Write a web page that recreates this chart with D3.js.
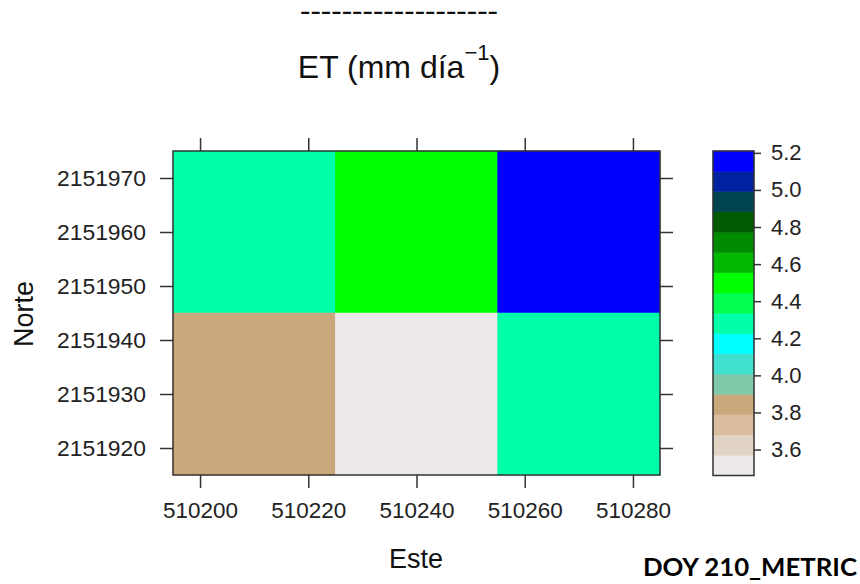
<!DOCTYPE html>
<html lang="es">
<head>
<meta charset="UTF-8">
<title>ET (mm día-1)</title>
<script src="https://d3js.org/d3.v7.min.js"></script>
<style>
  body { margin: 0; background: #fff; }
  svg { display: block; font-family: "Liberation Sans", Arial, sans-serif; }
  .axis path, .axis line { stroke: #333; stroke-width: 1.5px; }
  .axis text { font-size: 22px; fill: #222; font-family: "Liberation Sans", Arial, sans-serif; }
</style>
</head>
<body>
<svg id="chart" width="860" height="584"></svg>
<script>
// cell centres (30 m pixels)
const este = [510210, 510240, 510270];
const norte = [2151960, 2151930];
// ET values, one row per norte
const et = [
  [4.28, 4.50, 5.21],
  [3.84, 3.46, 4.29]
];
const xTicks = [510200, 510220, 510240, 510260, 510280];
const yTicks = [2151920, 2151930, 2151940, 2151950, 2151960, 2151970];
const keyTicks = [3.6, 3.8, 4.0, 4.2, 4.4, 4.6, 4.8, 5.0, 5.2];
// colour key, low -> high
const keyColors = [
  "#EDE9E8", "#E2D4C4", "#D8BC9C", "#CBA87C", "#80C8A8", "#40E0D0",
  "#00FFFF", "#00FFAA", "#00FF50", "#00FF00", "#00B800", "#008A00",
  "#005A00", "#004452", "#0022A0", "#0000FF"
];
const cell = 30;

const svg = d3.select("#chart");

const x = d3.scaleLinear().domain([510195, 510285]).range([173, 660]);
const y = d3.scaleLinear().domain([2151915, 2151975]).range([475, 151]);

const zExt = d3.extent(et.flat());
const color = d3.scaleQuantize().domain(zExt).range(keyColors);

// cells
const cells = [];
norte.forEach((n, i) => este.forEach((e, j) => cells.push({e: e, n: n, v: et[i][j]})));

svg.append("g").selectAll("rect")
  .data(cells)
  .join("rect")
  .attr("x", d => x(d.e - cell / 2))
  .attr("y", d => y(d.n + cell / 2))
  .attr("width", d => x(d.e + cell / 2) - x(d.e - cell / 2))
  .attr("height", d => y(d.n - cell / 2) - y(d.n + cell / 2))
  .attr("fill", d => color(d.v))
  .attr("stroke", d => color(d.v))
  .attr("stroke-width", 0.5);

// panel border
svg.append("rect")
  .attr("x", 173).attr("y", 151)
  .attr("width", 660 - 173).attr("height", 475 - 151)
  .attr("fill", "none").attr("stroke", "#333").attr("stroke-width", 1.5);

// axes
svg.append("g").attr("class", "axis")
  .attr("transform", "translate(0,475)")
  .call(d3.axisBottom(x).tickValues(xTicks).tickSize(13).tickPadding(14).tickFormat(d3.format("d")))
  .call(g => g.select(".domain").remove())
  .call(g => g.selectAll("text").attr("textLength", 75).attr("lengthAdjust", "spacingAndGlyphs"));
svg.append("g").attr("class", "axis")
  .attr("transform", "translate(0,151)")
  .call(d3.axisTop(x).tickValues(xTicks).tickSize(13).tickFormat(""))
  .call(g => g.select(".domain").remove());
svg.append("g").attr("class", "axis")
  .attr("transform", "translate(173,0)")
  .call(d3.axisLeft(y).tickValues(yTicks).tickSize(13).tickPadding(14).tickFormat(d3.format("d")))
  .call(g => g.select(".domain").remove())
  .call(g => g.selectAll("text").attr("textLength", 89).attr("lengthAdjust", "spacingAndGlyphs"));
svg.append("g").attr("class", "axis")
  .attr("transform", "translate(660,0)")
  .call(d3.axisRight(y).tickValues(yTicks).tickSize(13).tickFormat(""))
  .call(g => g.select(".domain").remove());

// colour key
const step = (zExt[1] - zExt[0]) / keyColors.length;
const zk = d3.scaleLinear().domain(zExt).range([475.5, 151]);
const key = svg.append("g");
key.selectAll("rect")
  .data(keyColors)
  .join("rect")
  .attr("x", 713)
  .attr("y", (c, i) => zk(zExt[0] + (i + 1) * step))
  .attr("width", 41)
  .attr("height", (c, i) => zk(zExt[0] + i * step) - zk(zExt[0] + (i + 1) * step))
  .attr("fill", c => c)
  .attr("stroke", c => c)
  .attr("stroke-width", 0.5);
key.append("rect")
  .attr("x", 713).attr("y", 151).attr("width", 41).attr("height", 475.5 - 151)
  .attr("fill", "none").attr("stroke", "#333").attr("stroke-width", 1.5);
svg.append("g").attr("class", "axis")
  .attr("transform", "translate(754,0)")
  .call(d3.axisRight(zk).tickValues(keyTicks).tickSize(7).tickPadding(10).tickFormat(d3.format(".1f")))
  .call(g => g.select(".domain").remove());

// labels
svg.append("text")
  .attr("x", 399).attr("y", 17.5)
  .attr("text-anchor", "middle")
  .attr("font-size", 19)
  .attr("textLength", 198)
  .attr("lengthAdjust", "spacingAndGlyphs")
  .attr("font-weight", "bold")
  .attr("fill", "#111")
  .text("-------------------");

const title = svg.append("text")
  .attr("x", 399).attr("y", 78)
  .attr("text-anchor", "middle")
  .attr("font-size", 32)
  .attr("fill", "#111");
title.append("tspan").text("ET (mm día");
title.append("tspan").attr("font-size", 22).attr("dy", -18).text("\u22121");
title.append("tspan").attr("dy", 18).text(")");

svg.append("text")
  .attr("x", 416).attr("y", 568)
  .attr("text-anchor", "middle")
  .attr("font-size", 27)
  .attr("fill", "#111")
  .text("Este");

svg.append("text")
  .attr("transform", "translate(33,314) rotate(-90)")
  .attr("text-anchor", "middle")
  .attr("font-size", 27)
  .attr("fill", "#111")
  .text("Norte");

svg.append("text")
  .attr("x", 643).attr("y", 576)
  .attr("font-family", "Lato, 'Open Sans', sans-serif")
  .attr("font-weight", "bold")
  .attr("font-size", 24.5)
  .attr("textLength", 214)
  .attr("lengthAdjust", "spacingAndGlyphs")
  .attr("fill", "#000")
  .text("DOY 210_METRIC");
</script>
</body>
</html>
